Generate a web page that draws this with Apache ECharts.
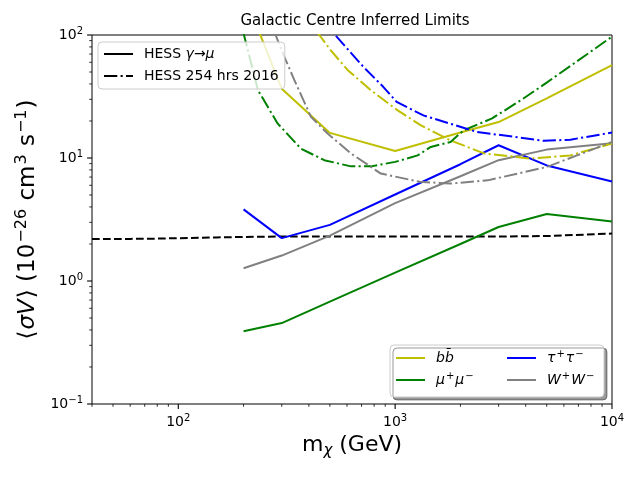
<!DOCTYPE html>
<html lang="en">
<head>
    <meta charset="UTF-8">
    <title>Galactic Centre Inferred Limits</title>
    <style>
        body{ margin: 0; background: #fff; }
        .box{ width: 640px; height: 480px; }
    </style>
    <script src="https://cdn.jsdelivr.net/npm/echarts@6.0.0/dist/echarts.min.js"></script>
</head>
<body>
    <div class="box" id="chart"></div>
    <script>
        // solid lines (HESS gamma -> mu)
        const massSolid = [200, 300, 500, 1000, 2000, 3000, 5000, 10000];
        const bbSolid = [220, 36.5, 16.0, 11.4, 16.1, 19.6, 30.5, 57];
        const mumuSolid = [0.39, 0.455, 0.68, 1.17, 2.0, 2.75, 3.5, 3.04];
        const tauSolid = [3.82, 2.23, 2.86, 5.05, 8.9, 12.7, 8.7, 6.45];
        const wwSolid = [1.27, 1.61, 2.34, 4.3, 7.1, 9.6, 11.7, 13.2];

        // dash-dot lines (HESS 254 hrs 2016)
        const massBb16 = [300, 400, 447, 505, 603, 772, 1024, 1310, 1800, 2570, 4200, 6430, 10000];
        const bb16 = [300, 128, 100, 75, 52, 35.6, 24.5, 18.5, 13.9, 10.9, 9.9, 10.5, 13.1];
        const massMumu16 = [200, 233, 287, 368, 471, 625, 773, 1000, 1270, 1460, 1800, 2070, 2800, 3800, 5000, 10000];
        const mumu16 = [103, 35.6, 19.1, 11.9, 9.6, 8.55, 8.55, 9.3, 10.5, 12.3, 13.5, 16.8, 21, 29.5, 41, 97];
        const massTau16 = [300, 450, 529, 713, 881, 1016, 1350, 2383, 4842, 6430, 10000];
        const tau16 = [360, 140, 100, 55.2, 37.9, 28.6, 22.2, 16.3, 13.8, 14.1, 16.1];
        const massWw16 = [200, 250, 281, 308, 343, 409, 488, 625, 859, 1300, 1800, 2670, 5000, 6900, 10000];
        const ww16 = [500, 174, 100, 66.6, 43, 21.6, 15.8, 10.9, 7.47, 6.4, 6.2, 6.58, 8.45, 10.5, 13.5];

        // black dashed line
        const massDash = [40, 60, 80, 100, 150, 200, 300, 1000, 3000, 5000, 10000];
        const dashVals = [2.2, 2.2, 2.21, 2.23, 2.26, 2.28, 2.3, 2.3, 2.3, 2.32, 2.43];

        // axis ticks
        const xMajor = [100, 1000, 10000];
        const xMinor = [40, 50, 60, 70, 80, 90, 200, 300, 400, 500, 600, 700, 800, 900,
                        2000, 3000, 4000, 5000, 6000, 7000, 8000, 9000];
        const yMajor = [0.1, 1, 10, 100];
        const yMinor = [0.2, 0.3, 0.4, 0.5, 0.6, 0.7, 0.8, 0.9, 2, 3, 4, 5, 6, 7, 8, 9,
                        20, 30, 40, 50, 60, 70, 80, 90];

        const X_MIN = 40, X_MAX = 10000, Y_MIN = 0.1, Y_MAX = 100;
        const FONT = 'DejaVu Sans';
        const YELLOW = '#bfbf00', GREEN = '#008000', BLUE = '#0000ff', GRAY = '#808080';
        const DASHDOT = [13.3, 3.3, 2.1, 3.3];

        function pairs(xs, ys) {
            return xs.map((x, i) => [x, ys[i]]);
        }

        function powLabel(v) {
            const e = Math.round(Math.log10(v));
            if (Math.abs(Math.log10(v) - e) > 1e-6) return '';
            return '{b|10}{s|' + String(e).replace('-', '\u2212') + '}';
        }

        function line(name, xs, ys, color, type) {
            return {
                name: name, type: 'line', data: pairs(xs, ys),
                symbol: 'none', showSymbol: false, clip: true,
                lineStyle: {color: color, width: 2, type: type},
                itemStyle: {color: color},
                emphasis: {disabled: true}
            };
        }

        function ticks(data, axis, len) {
            return {
                type: 'custom', clip: false, silent: true, z: 10,
                data: data,
                renderItem: function (params, api) {
                    const p = api.coord([api.value(0), api.value(1)]);
                    const shape = axis === 'x'
                        ? {x1: p[0], y1: p[1], x2: p[0], y2: p[1] + len}
                        : {x1: p[0], y1: p[1], x2: p[0] - len, y2: p[1]};
                    return {type: 'line', shape: shape,
                            style: {stroke: '#000', lineWidth: len > 4 ? 1.1 : 0.8}};
                }
            };
        }

        const legendLabels = {
            'HESS γ→μ': 'HESS {it|γ}→{it|μ}',
            'HESS 254 hrs 2016': 'HESS 254 hrs 2016',
            'bb̄': '{it|bb̄}',
            'μ⁺μ⁻': '{it|μ}{s|+}{it|μ}{s|\u2212}',
            'τ⁺τ⁻': '{it|τ}{s|+}{it|τ}{s|\u2212}',
            'W⁺W⁻': '{it|W}{s|+}{it|W}{s|\u2212}'
        };
        const legendRich = {
            it: {fontFamily: FONT, fontSize: 14, fontStyle: 'italic', lineHeight: 18, color: '#000'},
            s: {fontFamily: FONT, fontSize: 10, lineHeight: 10, verticalAlign: 'top',
                padding: [0, 1, 0, 1], color: '#000'}
        };
        const legendText = {fontFamily: FONT, fontSize: 14, color: '#000', lineHeight: 18,
                            padding: [0, 0, 0, 6], rich: legendRich};
        const legendBase = {
            selectedMode: false, orient: 'vertical',
            itemWidth: 29, itemHeight: 14, itemGap: 4,
            itemStyle: {opacity: 0, color: 'transparent', borderWidth: 0},
            backgroundColor: 'rgba(255,255,255,0.8)',
            borderColor: '#cccccc', borderWidth: 1, borderRadius: 4,
            formatter: name => legendLabels[name],
            textStyle: legendText
        };

        const chart = echarts.init(document.getElementById('chart'), null, {renderer: 'canvas'});
        chart.setOption({
            animation: false,
            backgroundColor: '#fff',
            title: {
                text: 'Galactic Centre Inferred Limits',
                left: 350, top: 9, textAlign: 'center',
                textStyle: {fontFamily: FONT, fontSize: 15, fontWeight: 'normal', color: '#000'}
            },
            grid: {left: 92, right: 28, top: 35, bottom: 76, show: true,
                   borderColor: '#000', borderWidth: 1, backgroundColor: 'transparent'},
            legend: [
                Object.assign({}, legendBase, {
                    data: ['HESS γ→μ', 'HESS 254 hrs 2016'],
                    left: 98, top: 42, padding: [3, 6, 4, 5]
                }),
                // lower right box: first column carries the frame and shadow
                Object.assign({}, legendBase, {
                    data: ['bb̄', 'μ⁺μ⁻'],
                    left: 390, top: 345, padding: [4, 6, 8, 5],
                    backgroundColor: '#ffffff',
                    shadowColor: 'rgba(0,0,0,0.4)', shadowBlur: 0,
                    shadowOffsetX: 3, shadowOffsetY: 3,
                    textStyle: Object.assign({}, legendText, {width: 162})
                }),
                Object.assign({}, legendBase, {
                    data: ['τ⁺τ⁻', 'W⁺W⁻'],
                    left: 501, top: 345, padding: [4, 6, 8, 5],
                    backgroundColor: 'transparent', borderWidth: 0
                })
            ],
            xAxis: {
                type: 'log', logBase: 10, min: X_MIN, max: X_MAX,
                axisLine: {show: false}, axisTick: {show: false}, splitLine: {show: false},
                axisLabel: {
                    formatter: powLabel, margin: 9,
                    rich: {
                        b: {fontFamily: FONT, fontSize: 14, lineHeight: 18, color: '#000'},
                        s: {fontFamily: FONT, fontSize: 10, lineHeight: 10, verticalAlign: 'top', color: '#000'}
                    }
                },
                name: '{n|m}{sub|χ}{n| (GeV)}',
                nameLocation: 'middle', nameGap: 24,
                nameTextStyle: {
                    rich: {
                        n: {fontFamily: FONT, fontSize: 22, lineHeight: 28, color: '#000'},
                        sub: {fontFamily: FONT, fontSize: 15, fontStyle: 'italic', lineHeight: 15,
                              verticalAlign: 'bottom', color: '#000'}
                    }
                }
            },
            yAxis: {
                type: 'log', logBase: 10, min: Y_MIN, max: Y_MAX,
                axisLine: {show: false}, axisTick: {show: false}, splitLine: {show: false},
                axisLabel: {
                    formatter: powLabel, margin: 9,
                    rich: {
                        b: {fontFamily: FONT, fontSize: 14, lineHeight: 18, color: '#000'},
                        s: {fontFamily: FONT, fontSize: 10, lineHeight: 10, verticalAlign: 'top', color: '#000'}
                    }
                },
                name: '{n|⟨}{it|σV}{n|⟩ (10}{s|\u221226}{n| cm}{s|3}{n| s}{s|\u22121}{n|)}',
                nameLocation: 'middle', nameGap: 46, nameRotate: 90,
                nameTextStyle: {
                    rich: {
                        n: {fontFamily: FONT, fontSize: 23, lineHeight: 28, color: '#000'},
                        it: {fontFamily: FONT, fontSize: 23, fontStyle: 'italic', lineHeight: 28,
                             padding: [0, 1, 0, 1], color: '#000'},
                        s: {fontFamily: FONT, fontSize: 16, lineHeight: 14, verticalAlign: 'top',
                            padding: [0, 1, 0, 1], color: '#000'}
                    }
                }
            },
            series: [
                line('HESS γ→μ', [], [], '#000', 'solid'),
                line('HESS 254 hrs 2016', [], [], '#000', DASHDOT),
                line('hess-dashed', massDash, dashVals, '#000', [7.7, 3.3]),
                line('bb̄', massSolid, bbSolid, YELLOW, 'solid'),
                line('μ⁺μ⁻', massSolid, mumuSolid, GREEN, 'solid'),
                line('τ⁺τ⁻', massSolid, tauSolid, BLUE, 'solid'),
                line('W⁺W⁻', massSolid, wwSolid, GRAY, 'solid'),
                line('bb-2016', massBb16, bb16, YELLOW, DASHDOT),
                line('mumu-2016', massMumu16, mumu16, GREEN, DASHDOT),
                line('tau-2016', massTau16, tau16, BLUE, DASHDOT),
                line('ww-2016', massWw16, ww16, GRAY, DASHDOT),
                ticks(xMajor.map(v => [v, Y_MIN]), 'x', 4.9),
                ticks(xMinor.map(v => [v, Y_MIN]), 'x', 2.8),
                ticks(yMajor.map(v => [X_MIN, v]), 'y', 4.9),
                ticks(yMinor.map(v => [X_MIN, v]), 'y', 2.8)
            ]
        });
    </script>
</body>
</html>
